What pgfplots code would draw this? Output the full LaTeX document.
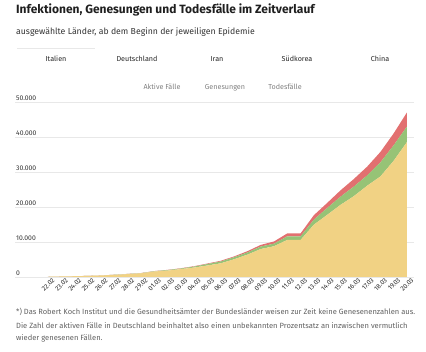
\documentclass[border=0pt]{standalone}
\usepackage{fontspec}
\setmainfont{Fira Sans}
\usepackage{pgfplots}
\pgfplotsset{compat=1.18}
\usepackage{pgfplotstable}
\definecolor{activeC}{RGB}{241,210,132}
\definecolor{recC}{RGB}{150,195,118}
\definecolor{deathC}{RGB}{226,112,112}
\definecolor{gridC}{RGB}{232,232,232}
\pgfplotstableread{
i active recovered deaths
0 59 1 2
1 150 2 3
2 221 1 7
3 311 1 10
4 438 3 12
5 593 45 17
6 821 46 21
7 1053 46 29
8 1577 83 34
9 1835 149 52
10 2263 160 79
11 2706 276 107
12 3296 414 148
13 3916 523 197
14 5061 589 233
15 6387 622 366
16 7985 724 463
17 8794 724 631
18 10590 1045 827
19 10590 1045 827
20 14955 1439 1266
21 17750 1966 1441
22 20603 2335 1809
23 23073 2749 2158
24 26062 2941 2503
25 28710 4025 2978
26 33190 4440 3405
27 38549 4440 4032
}\datatable
\begin{document}
\begin{tikzpicture}[x=1pt,y=1pt]
\path[use as bounding box] (0,0) rectangle (426,351);
% title
\node[anchor=base west,inner sep=0,font=\fontsize{12}{14}\selectfont\bfseries,text=black!88] at (16,337) {Infektionen, Genesungen und Todesfälle im Zeitverlauf};
\node[anchor=base west,inner sep=0,font=\fontsize{8.7}{10}\selectfont,text=black!80] at (16,316) {ausgewählte Länder, ab dem Beginn der jeweiligen Epidemie};
% tabs
\draw[gridC,line width=1pt] (17,302) -- (95,302);
\foreach \x/\t in {56/Italien,137/Deutschland,217/Iran,297/Südkorea,380/China}
  \node[anchor=base,inner sep=0,font=\fontsize{7.2}{9}\selectfont,text=black!85] at (\x,289) {\t};
% legend
\foreach \x/\t in {162/Aktive Fälle,225/Genesungen,285/Todesfälle}
  \node[anchor=base,inner sep=0,font=\fontsize{7.2}{9}\selectfont,text=black!50] at (\x,261) {\t};
% footnote
\node[anchor=base west,inner sep=0,font=\fontsize{7.55}{9}\selectfont,text=black!62] at (16,36) {*) Das Robert Koch Institut und die Gesundheitsämter der Bundesländer weisen zur Zeit keine Genesenenzahlen aus.};
\node[anchor=base west,inner sep=0,font=\fontsize{7.55}{9}\selectfont,text=black!62] at (16,23) {Die Zahl der aktiven Fälle in Deutschland beinhaltet also einen unbekannten Prozentsatz an inzwischen vermutlich};
\node[anchor=base west,inner sep=0,font=\fontsize{7.55}{9}\selectfont,text=black!62] at (16,10) {wieder genesenen Fällen.};
\begin{axis}[
  at={(15pt,74pt)}, anchor=south west,
  scale only axis, width=399pt, height=175pt,
  xmin=-2.48, xmax=27.53, ymin=0, ymax=50000,
  stack plots=y,
  axis line style={draw=none},
  major tick length=0pt,
  ymajorgrids, grid style={gridC, line width=0.8pt},
  scaled y ticks=false,
  ytick={0,10000,20000,30000,40000,50000},
  yticklabels={0,10.000,20.000,30.000,40.000,50.000},
  yticklabel style={anchor=south west, inner sep=1pt, xshift=0pt, font=\fontsize{6.8}{8}\selectfont, text=black!80},
  xtick={0,...,27},
  xticklabels={22.02,23.02,24.02,25.02,26.02,27.02,28.02,29.02,01.03,02.03,03.03,04.03,05.03,06.03,07.03,08.03,09.03,10.03,11.03,12.03,13.03,14.03,15.03,16.03,17.03,18.03,19.03,20.03},
  xticklabel style={rotate=45, anchor=north east, inner sep=0.5pt, font=\fontsize{6.6}{7}\selectfont, text=black!85, xshift=3pt, yshift=-2.5pt},
  /pgf/number format/assume math mode=true,
]
\addplot[draw=none, fill=activeC] table[x=i,y=active]{\datatable} \closedcycle;
\addplot[draw=none, fill=recC] table[x=i,y=recovered]{\datatable} \closedcycle;
\addplot[draw=none, fill=deathC] table[x=i,y=deaths]{\datatable} \closedcycle;
\end{axis}
\end{tikzpicture}
\end{document}
